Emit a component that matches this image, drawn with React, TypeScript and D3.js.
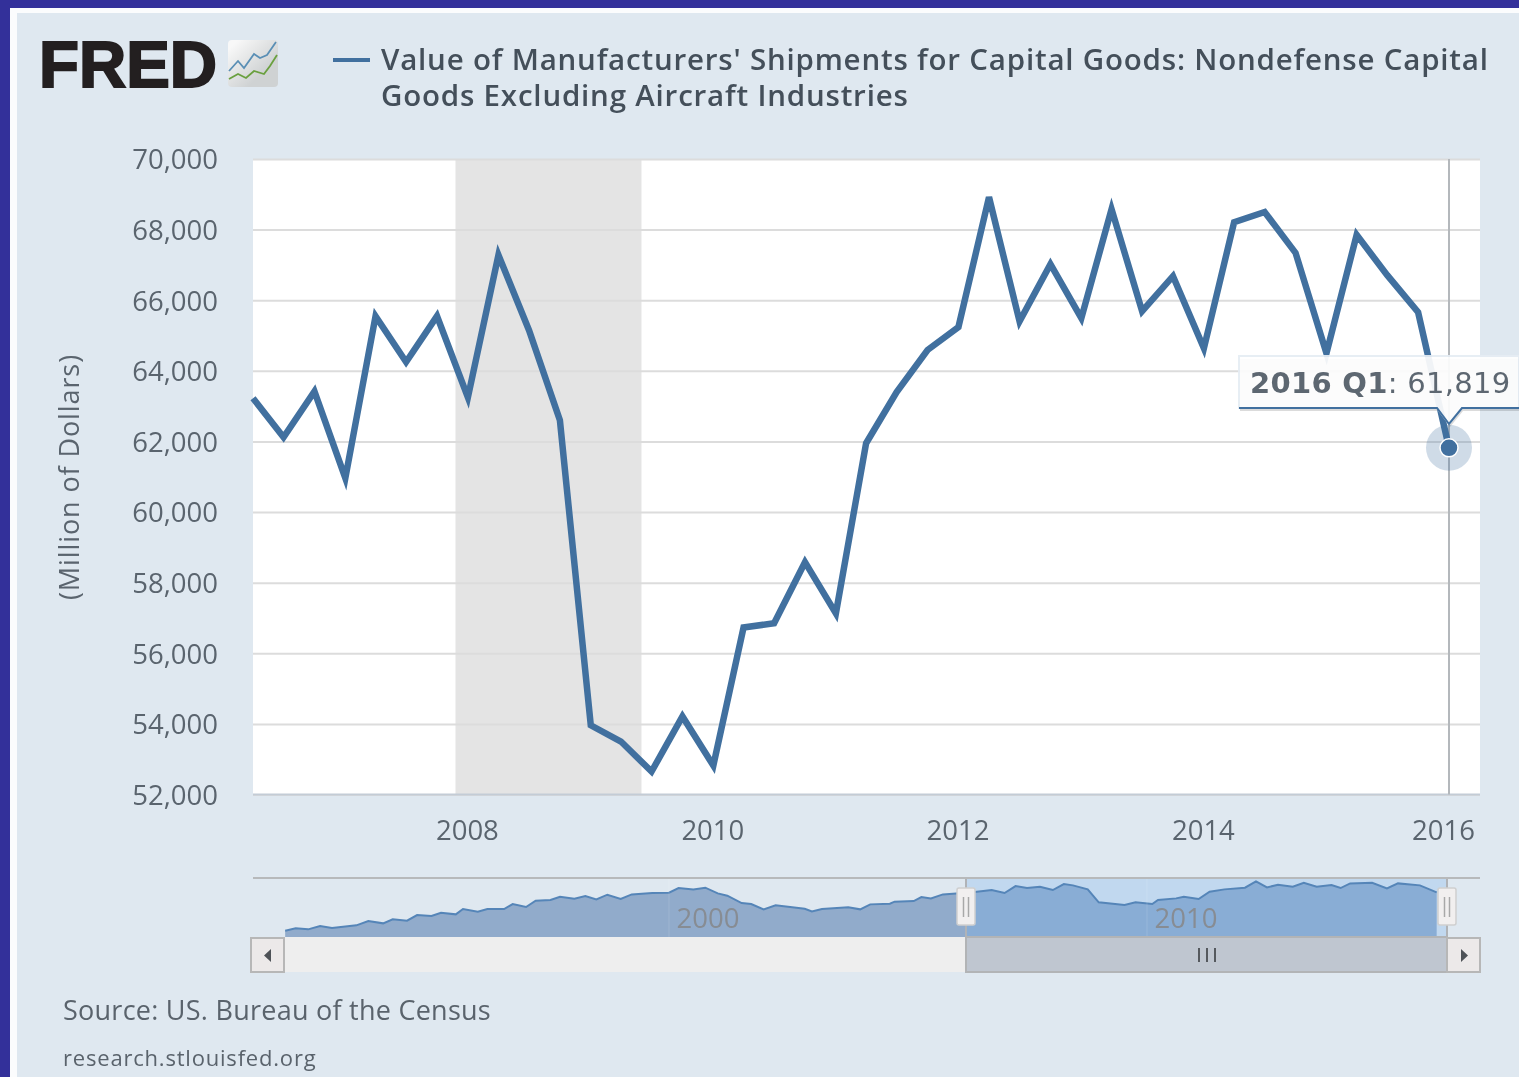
import { useEffect, useRef } from 'react';
import * as d3 from 'd3';

// quarterly shipments, million of dollars, 2006 Q2 .. 2016 Q1
const startYear = 2006;
const startQuarter = 2;
const shipments = [
  63225, 62120, 63420, 60960, 65550, 64250, 65550, 63250, 67280, 65150,
  62600, 53960, 53500, 52650, 54210, 52820, 56730, 56850, 58580, 57130,
  61950, 63400, 64590, 65240, 68920, 65400, 67020, 65490, 68580, 65690,
  66680, 64640, 68210, 68500, 67340, 64500, 67850, 66710, 65660, 61819,
];

// navigator overview
const navYears = [
  1991.97, 1992.19, 1992.45, 1992.7, 1992.95, 1993.46, 1993.71, 1994.02, 1994.22, 1994.52,
  1994.73, 1995.03, 1995.23, 1995.54, 1995.69, 1996.0, 1996.2, 1996.55, 1996.73, 1997.01,
  1997.21, 1997.52, 1997.72, 1998.02, 1998.25, 1998.48, 1998.71, 1998.99, 1999.22, 1999.65,
  2000.0, 2000.2, 2000.51, 2000.76, 2001.02, 2001.22, 2001.52, 2001.72, 2001.98, 2002.23,
  2002.84, 2002.99, 2003.2, 2003.75, 2004.0, 2004.21, 2004.62, 2004.72, 2005.12, 2005.28,
  2005.48, 2005.73, 2006.22, 2006.44, 2006.75, 2007.02, 2007.25, 2007.49, 2007.76, 2008.03,
  2008.26, 2008.45, 2008.76, 2008.99, 2009.53, 2009.76, 2010.11, 2010.23, 2010.61, 2010.77,
  2011.08, 2011.31, 2011.62, 2012.05, 2012.28, 2012.51, 2012.74, 2013.05, 2013.28, 2013.55,
  2013.86, 2014.05, 2014.25, 2014.71, 2015.02, 2015.25, 2015.71, 2016.06,
];
const navValues = [
  35280, 36860, 36180, 38440, 37090, 38890, 41830, 40250, 42960, 42050,
  45890, 45210, 47470, 46340, 49950, 48150, 49950, 49950, 53340, 51310,
  55590, 56040, 58300, 56950, 58750, 56500, 59660, 56720, 59880, 60790,
  61010, 64170, 63270, 64400, 60560, 58980, 54010, 53340, 49730, 52430,
  50180, 48370, 49950, 51080, 49730, 53110, 53560, 54920, 55370, 58080,
  57170, 59880, 61010, 61690, 62820, 60790, 65520, 64170, 65070, 62820,
  66880, 65980, 63270, 54470, 52660, 54470, 53340, 56040, 57170, 58300,
  56720, 61690, 63270, 64400, 68680, 64620, 66430, 65070, 67780, 65070,
  66200, 64170, 67330, 67780, 63950, 67330, 65980, 61240,
];

const yTicks = [52000, 54000, 56000, 58000, 60000, 62000, 64000, 66000, 68000, 70000];
const xTicks = [2008, 2010, 2012, 2014, 2016];
const navTicks = [2000, 2010];
const recession = [new Date(2007, 10, 25), new Date(2009, 5, 1)];

const legendLines = [
  "Value of Manufacturers' Shipments for Capital Goods: Nondefense Capital",
  'Goods Excluding Aircraft Industries',
];

const sans = '"Open Sans", sans-serif';
const lineColor = '#41709f';
const labelColor = '#5a646e';

const quarterDate = (i: number) => {
  const q = startQuarter - 1 + i;
  return new Date(startYear + Math.floor(q / 4), (q % 4) * 3, 1);
};

export default function App() {
  const svgRef = useRef<SVGSVGElement>(null);

  useEffect(() => {
    const svg = d3.select(svgRef.current);
    svg.selectAll('*').remove();

    // page frame
    svg.append('rect').attr('width', 1519).attr('height', 1077).attr('fill', '#33309a');
    svg.append('rect').attr('x', 10).attr('y', 8).attr('width', 1509).attr('height', 1069).attr('fill', '#fbfcfd');
    svg.append('rect').attr('x', 17).attr('y', 13).attr('width', 1502).attr('height', 1064).attr('fill', '#dfe8f0');

    // logo
    svg.append('text').attr('x', 39).attr('y', 87)
      .attr('font-family', '"Liberation Sans", sans-serif').attr('font-weight', 700)
      .attr('font-size', 65).attr('fill', '#231f20').attr('stroke', '#231f20').attr('stroke-width', 2)
      .attr('textLength', 178).attr('lengthAdjust', 'spacingAndGlyphs')
      .text('FRED');
    const grad = svg.append('defs').append('linearGradient').attr('id', 'logoBg')
      .attr('x1', 0).attr('y1', 0).attr('x2', 1).attr('y2', 1);
    grad.append('stop').attr('offset', '10%').attr('stop-color', '#f8f8f8');
    grad.append('stop').attr('offset', '70%').attr('stop-color', '#cfd2d3');
    svg.append('rect').attr('x', 228).attr('y', 40).attr('width', 50).attr('height', 47).attr('rx', 4).attr('fill', 'url(#logoBg)');
    const logoLine = d3.line();
    svg.append('path')
      .attr('d', logoLine([[229, 71], [238, 61], [244, 68], [254, 54], [260, 58], [267, 55], [276, 42]]))
      .attr('fill', 'none').attr('stroke', '#5a8fb5').attr('stroke-width', 1.8);
    svg.append('path')
      .attr('d', logoLine([[229, 79], [238, 74], [246, 78], [254, 71], [264, 74], [270, 66], [277, 55]]))
      .attr('fill', 'none').attr('stroke', '#6aa03f').attr('stroke-width', 1.8);

    // legend
    svg.append('line').attr('x1', 333).attr('x2', 370).attr('y1', 60).attr('y2', 60)
      .attr('stroke', lineColor).attr('stroke-width', 4);
    legendLines.forEach((t, i) => {
      svg.append('text').attr('x', 381).attr('y', 70 + i * 36)
        .attr('font-family', sans).attr('font-weight', 600).attr('font-size', 29.5)
        .attr('letter-spacing', 0.8)
        .attr('fill', '#444f5a').text(t);
    });

    // main chart
    const left = 253, right = 1480, top = 159, bottom = 794.5;
    const x = d3.scaleTime().domain([quarterDate(0), quarterDate(shipments.length - 1)]).range([left, 1449]);
    const y = d3.scaleLinear().domain([52000, 70000]).range([bottom, top]);

    svg.append('rect').attr('x', left).attr('y', top).attr('width', right - left).attr('height', bottom - top).attr('fill', '#ffffff');
    svg.append('rect').attr('x', x(recession[0])).attr('y', top)
      .attr('width', x(recession[1]) - x(recession[0])).attr('height', bottom - top).attr('fill', '#e4e4e4');

    const yAxis = svg.append('g').attr('transform', `translate(${left},0)`)
      .call(d3.axisLeft(y).tickValues(yTicks).tickFormat(d3.format(',')).tickSize(-(right - left)).tickPadding(35));
    yAxis.select('.domain').remove();
    yAxis.selectAll('.tick line').attr('stroke', '#dcdcdc').attr('stroke-width', 2);
    yAxis.selectAll('.tick text')
      .attr('font-family', sans).attr('font-size', 27.5).attr('fill', labelColor).attr('y', 1);

    const xAxis = svg.append('g').attr('transform', `translate(0,${bottom})`)
      .call(d3.axisBottom(x).tickValues(xTicks.map(v => new Date(v, 0, 1))).tickFormat(d3.timeFormat('%Y')).tickSize(0).tickPadding(26));
    xAxis.select('.domain').attr('stroke', '#c3ccd6').attr('stroke-width', 2)
      .attr('d', `M${left},0H${right}`);
    xAxis.selectAll('.tick text')
      .attr('font-family', sans).attr('font-size', 27.5).attr('fill', labelColor)
      .attr('dx', (_, i) => (i === xTicks.length - 1 ? -6 : -1));

    svg.append('text')
      .attr('transform', 'translate(79,477) rotate(-90)').attr('text-anchor', 'middle')
      .attr('font-family', sans).attr('font-size', 27).attr('letter-spacing', 0.9).attr('fill', labelColor)
      .text('(Million of Dollars)');

    const lastDate = quarterDate(shipments.length - 1);
    const lastValue = shipments[shipments.length - 1];

    // crosshair
    svg.append('line').attr('x1', x(lastDate)).attr('x2', x(lastDate)).attr('y1', top).attr('y2', bottom)
      .attr('stroke', '#b4b8bc').attr('stroke-width', 2);

    const line = d3.line<number>().x((_, i) => x(quarterDate(i))).y(d => y(d));
    svg.append('path').attr('d', line(shipments))
      .attr('fill', 'none').attr('stroke', lineColor).attr('stroke-width', 6.5).attr('stroke-linejoin', 'miter');

    svg.append('circle').attr('cx', x(lastDate)).attr('cy', y(lastValue)).attr('r', 23)
      .attr('fill', lineColor).attr('opacity', 0.25);
    svg.append('circle').attr('cx', x(lastDate)).attr('cy', y(lastValue)).attr('r', 9)
      .attr('fill', lineColor).attr('stroke', '#ffffff').attr('stroke-width', 1.5);

    // tooltip
    const tip = svg.append('g');
    const tx = x(lastDate);
    const tipShape = `M1239,356H1519V408H${tx + 13}L${tx},424L${tx - 12},408H1239Z`;
    tip.append('path').attr('d', tipShape).attr('transform', 'translate(1,3)').attr('fill', '#000').attr('opacity', 0.14);
    tip.append('path').attr('d', tipShape).attr('fill', '#ffffff').attr('opacity', 0.93)
      .attr('stroke', '#e6edf4').attr('stroke-width', 2);
    tip.append('path').attr('d', `M1239,408H${tx - 12}L${tx},424L${tx + 13},408H1519`)
      .attr('fill', 'none').attr('stroke', lineColor).attr('stroke-width', 2);
    const tipText = tip.append('text').attr('x', 1250).attr('y', 393)
      .attr('font-family', '"DejaVu Sans", sans-serif').attr('font-size', 29).attr('letter-spacing', 0.3).attr('fill', '#5d6771');
    tipText.append('tspan').attr('font-weight', 700).text('2016 Q1');
    tipText.append('tspan').text(`: ${d3.format(',')(lastValue)}`);

    // navigator
    const navTop = 879, navBottom = 937, sel0 = 966, sel1 = 1447;
    const nx = d3.scaleLinear().domain([2000, 2010]).range([669, 1147]);
    const ny = d3.scaleLinear().domain([31000, 70300]).range([navBottom, navTop]);
    const navArea = d3.area<number>().x((_, i) => nx(navYears[i])).y0(navBottom).y1(d => ny(d));
    const navLine = d3.line<number>().x((_, i) => nx(navYears[i])).y(d => ny(d));

    svg.append('rect').attr('x', sel0).attr('y', navTop).attr('width', sel1 - sel0).attr('height', navBottom - navTop).attr('fill', '#c1d8ef');
    const defs = svg.select('defs');
    defs.append('clipPath').attr('id', 'navOut').append('rect').attr('x', left).attr('y', navTop).attr('width', sel0 - left).attr('height', navBottom - navTop);
    defs.append('clipPath').attr('id', 'navIn').append('rect').attr('x', sel0).attr('y', navTop).attr('width', sel1 - sel0).attr('height', navBottom - navTop);
    svg.append('path').attr('d', navArea(navValues)).attr('fill', '#91abcb').attr('clip-path', 'url(#navOut)');
    svg.append('path').attr('d', navArea(navValues)).attr('fill', '#89add5').attr('clip-path', 'url(#navIn)');
    svg.append('path').attr('d', navLine(navValues)).attr('fill', 'none').attr('stroke', '#5585b8').attr('stroke-width', 2);

    navTicks.forEach(v => {
      svg.append('line').attr('x1', nx(v)).attr('x2', nx(v)).attr('y1', navTop).attr('y2', navBottom)
        .attr('stroke', '#ffffff').attr('opacity', 0.12);
      svg.append('text').attr('x', nx(v) + 39).attr('y', 928).attr('text-anchor', 'middle')
        .attr('font-family', sans).attr('font-size', 27.5).attr('fill', '#878c93').text(v);
    });
    svg.append('line').attr('x1', left).attr('x2', right).attr('y1', 878).attr('y2', 878)
      .attr('stroke', '#b7b9bb').attr('stroke-width', 2);
    [sel0, sel1].forEach(hx => {
      svg.append('line').attr('x1', hx).attr('x2', hx).attr('y1', navTop).attr('y2', navBottom)
        .attr('stroke', '#b0b3b7').attr('stroke-width', 2);
      svg.append('rect').attr('x', hx - 9).attr('y', 888).attr('width', 18).attr('height', 37).attr('rx', 2)
        .attr('fill', '#f1efef').attr('stroke', '#cfcfcf').attr('stroke-width', 1.5);
      [-2.5, 2.5].forEach(d => {
        svg.append('line').attr('x1', hx + d).attr('x2', hx + d).attr('y1', 897).attr('y2', 917)
          .attr('stroke', '#a8a8a8').attr('stroke-width', 1.5);
      });
    });

    // scrollbar
    svg.append('rect').attr('x', 284).attr('y', 937).attr('width', sel0 - 284).attr('height', 35).attr('fill', '#eeeeee');
    svg.append('rect').attr('x', sel0).attr('y', 937).attr('width', sel1 - sel0).attr('height', 35)
      .attr('fill', '#bfc6d0').attr('stroke', '#b2b4b6').attr('stroke-width', 2);
    [-8, 0, 8].forEach(d => {
      svg.append('line').attr('x1', 1207 + d).attr('x2', 1207 + d).attr('y1', 948).attr('y2', 962)
        .attr('stroke', '#55595e').attr('stroke-width', 2);
    });
    svg.append('rect').attr('x', 251).attr('y', 938).attr('width', 33).attr('height', 34)
      .attr('fill', '#ece9e9').attr('stroke', '#b7b7b7').attr('stroke-width', 2);
    svg.append('rect').attr('x', 1447).attr('y', 938).attr('width', 33).attr('height', 34)
      .attr('fill', '#ece9e9').attr('stroke', '#b7b7b7').attr('stroke-width', 2);
    svg.append('path').attr('d', 'M271,949L264,955.5L271,962Z').attr('fill', '#4e5257');
    svg.append('path').attr('d', 'M1461,949L1468,955.5L1461,962Z').attr('fill', '#4e5257');

    // credits
    svg.append('text').attr('x', 63).attr('y', 1020)
      .attr('font-family', sans).attr('font-size', 27).attr('letter-spacing', 0.25).attr('fill', '#5a636c')
      .text('Source: US. Bureau of the Census');
    svg.append('text').attr('x', 63).attr('y', 1066)
      .attr('font-family', sans).attr('font-size', 22).attr('letter-spacing', 0.8).attr('fill', '#5a636c')
      .text('research.stlouisfed.org');
  }, []);

  return (
    <svg
      ref={svgRef}
      width={1519}
      height={1077}
      style={{ position: 'absolute', left: 0, top: 0, display: 'block', filter: 'blur(0.6px)' }}
    />
  );
}
